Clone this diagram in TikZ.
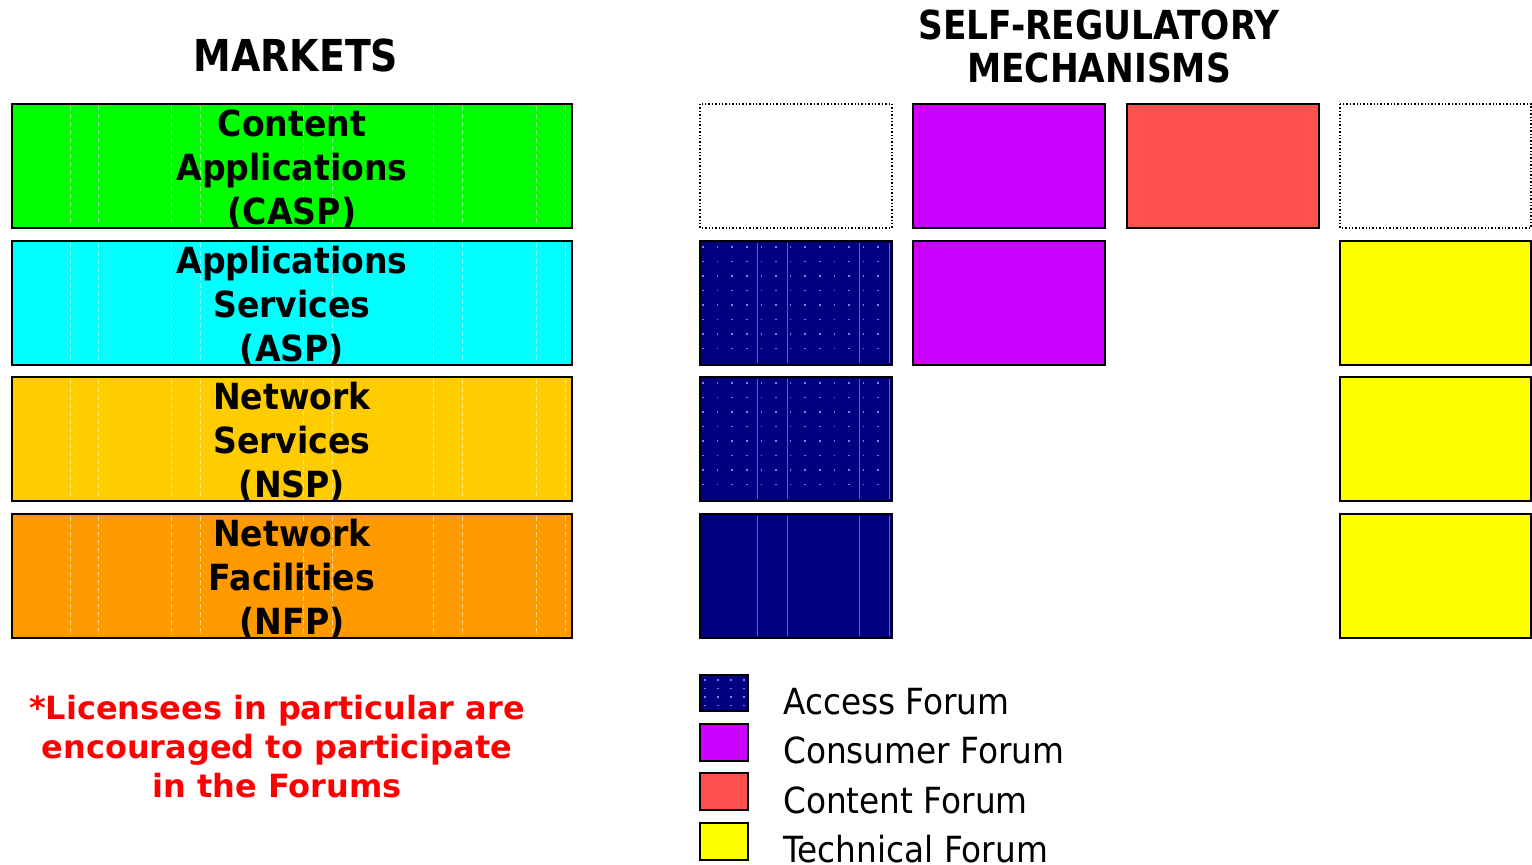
\documentclass[tikz,border=0pt]{standalone}
\usepackage{fontspec}
\setmainfont{DejaVu Sans}
\newfontfamily\fR[FakeStretch=0.91]{DejaVu Sans}
\newfontfamily\fB[FakeStretch=0.92]{DejaVu Sans}
\newfontfamily\fN[FakeStretch=1.0]{DejaVu Sans}
\newfontfamily\fT[FakeStretch=0.86]{DejaVu Sans}
\definecolor{mgreen}{HTML}{00FF00}
\definecolor{mcyan}{HTML}{00FFFF}
\definecolor{mgold}{HTML}{FFCC00}
\definecolor{morange}{HTML}{FF9900}
\definecolor{fpurple}{HTML}{CC00FF}
\definecolor{fred}{HTML}{FF5050}
\definecolor{fyellow}{HTML}{FFFF00}
\definecolor{fnavy}{HTML}{000080}
\definecolor{fdot}{HTML}{7F7FE0}
\definecolor{fline}{HTML}{5C5CD0}
\definecolor{nred}{HTML}{FF0000}
\tikzset{
  market/.style={draw=black, line width=2pt},
  forum/.style={draw=black, line width=2pt},
  emptybox/.style={draw=black, line width=1.4pt, dotted, fill=white},
  boxtext/.style={anchor=base, inner sep=0pt, font=\fB\bfseries\fontsize{36}{44}\selectfont},
  titletext/.style={anchor=base, inner sep=0pt, font=\fT\bfseries\fontsize{40}{44}\selectfont},
  bigtitle/.style={anchor=base, inner sep=0pt, font=\fT\bfseries\fontsize{44}{48}\selectfont},
  notetext/.style={anchor=base, inner sep=0pt, text=nred, font=\fN\bfseries\fontsize{32}{39}\selectfont},
  legtext/.style={anchor=base west, inner sep=0pt, font=\fR\fontsize{36}{44}\selectfont},
  faint/.style={white, opacity=0.55, line width=0.7pt, dash pattern=on 5pt off 3pt},
  navyline/.style={fline, line width=1pt},
}
\begin{document}
\begin{tikzpicture}[x=1pt,y=-1pt]
\useasboundingbox (0,0) rectangle (1532,865);
\fill[white] (0,0) rectangle (1532,865);

% titles
\node[bigtitle] (tmarkets) at (296,71) {MARKETS};
\node[titletext] (tself) at (1099,39) {SELF-REGULATORY};
\node[titletext] (tmech) at (1099,82) {MECHANISMS};

% market boxes
\foreach \name/\col/\top in {casp/mgreen/104, asp/mcyan/241, nsp/mgold/377, nfp/morange/514}{
  \fill[\col] (12,\top) rectangle (572,\top+124);
  \foreach \xx in {70,98,171,200,303,332,433,462,536,565}{
    \draw[faint] (\xx,\top+2) -- (\xx,\top+122);
  }
  \draw[market] (12,\top) rectangle (572,\top+124);
  \coordinate (\name) at (292,\top);
}
\node[boxtext] (casp1) at ([yshift=-32pt]casp) {Content};
\node[boxtext] (casp2) at ([yshift=-76pt]casp) {Applications};
\node[boxtext] (casp3) at ([yshift=-120pt]casp) {(CASP)};
\node[boxtext] (asp1) at ([yshift=-32pt]asp) {Applications};
\node[boxtext] (asp2) at ([yshift=-76pt]asp) {Services};
\node[boxtext] (asp3) at ([yshift=-120pt]asp) {(ASP)};
\node[boxtext] (nsp1) at ([yshift=-32pt]nsp) {Network};
\node[boxtext] (nsp2) at ([yshift=-76pt]nsp) {Services};
\node[boxtext] (nsp3) at ([yshift=-120pt]nsp) {(NSP)};
\node[boxtext] (nfp1) at ([yshift=-32pt]nfp) {Network};
\node[boxtext] (nfp2) at ([yshift=-76pt]nfp) {Facilities};
\node[boxtext] (nfp3) at ([yshift=-120pt]nfp) {(NFP)};

% forum grid
% row 1
\draw[emptybox] (700,104) rectangle (892,228);
\draw[forum, fill=fpurple] (913,104) rectangle (1105,228);
\draw[forum, fill=fred] (1127,104) rectangle (1319,228);
\draw[emptybox] (1340,104) rectangle (1531,228);
% navy access boxes
\foreach \top/\dots in {241/1, 377/1, 514/0}{
  \fill[fnavy] (700,\top) rectangle (892,\top+124);
  \ifnum\dots=1
    \foreach \i in {0,...,12}{
      \foreach \j in {0,...,7}{
        \fill[fdot] (703+14.6*\i-0.8,\top+6+14.5*\j-0.8) rectangle ++(1.6,1.6);
      }
    }
  \fi
  \foreach \xx in {757,787,859,889}{
    \draw[navyline] (\xx,\top+2) -- (\xx,\top+122);
  }
  \draw[forum] (700,\top) rectangle (892,\top+124);
}
% row 2
\draw[forum, fill=fpurple] (913,241) rectangle (1105,365);
\draw[forum, fill=fyellow] (1340,241) rectangle (1531,365);
% rows 3, 4
\draw[forum, fill=fyellow] (1340,377) rectangle (1531,501);
\draw[forum, fill=fyellow] (1340,514) rectangle (1531,638);

% note
\node[notetext] (note1) at (277,719) {*Licensees in particular are};
\node[notetext] (note2) at (277,758) {encouraged to participate};
\node[notetext] (note3) at (277,797) {in the Forums};

% legend
\fill[fnavy] (700,675) rectangle (748,711);
\foreach \i in {0,...,3}{
  \foreach \j in {0,...,3}{
    \fill[fdot] (705+13*\i-0.6,680+8.5*\j-0.6) rectangle ++(1.2,1.2);
  }
}
\draw[forum] (700,675) rectangle (748,711);
\draw[forum, fill=fpurple] (700,724) rectangle (748,761);
\draw[forum, fill=fred] (700,773) rectangle (748,810);
\draw[forum, fill=fyellow] (700,823) rectangle (748,860);
\node[legtext] (lacc) at (783,714) {Access Forum};
\node[legtext] (lcons) at (783,763) {Consumer Forum};
\node[legtext] (lcont) at (783,813) {Content Forum};
\node[legtext] (ltech) at (783,862) {Technical Forum};
\end{tikzpicture}
\end{document}
